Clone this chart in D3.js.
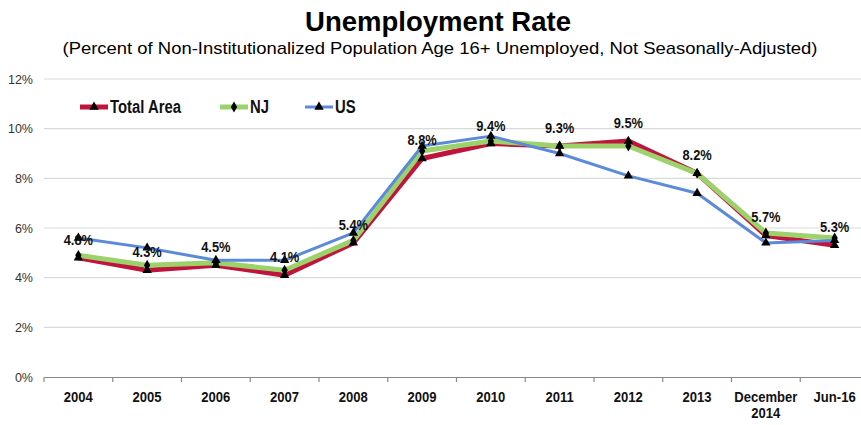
<!DOCTYPE html>
<html><head><meta charset="utf-8">
<script src="https://cdn.jsdelivr.net/npm/d3@7"></script>
<style>body{margin:0;background:#fff}svg{display:block;font-family:"Liberation Sans",Arial,sans-serif}</style>
</head><body><svg id="c" width="861" height="425"></svg>
<script>
const categories = ["2004","2005","2006","2007","2008","2009","2010","2011","2012","2013","December 2014","Jun-16"];
const totalArea = [4.8,4.3,4.5,4.1,5.4,8.8,9.4,9.3,9.5,8.2,5.7,5.3];
const nj = [4.9,4.5,4.6,4.3,5.5,9.1,9.5,9.3,9.3,8.2,5.8,5.6];
const us = [5.6,5.2,4.7,4.7,5.8,9.3,9.7,9.0,8.1,7.4,5.4,5.5];
const yTicks = [0,2,4,6,8,10,12];
const seriesNames = ["Total Area","NJ","US"];

(function(){
const svg = d3.select("#c");
const pLeft = 44, pRight = 869, pTop = 79, pBottom = 377;
const x = d3.scaleBand().domain(categories).range([pLeft, pRight]);
const y = d3.scaleLinear().domain([0,12]).range([pBottom, pTop]);

function condense(sel, f){
  sel.each(function(){
    const w = this.getComputedTextLength();
    d3.select(this).attr("textLength", w*f).attr("lengthAdjust","spacingAndGlyphs");
  });
}

svg.append("text").attr("x",438).attr("y",31).attr("text-anchor","middle")
  .attr("font-size",27.5).attr("font-weight","bold").text("Unemployment Rate");
svg.append("text").attr("x",440).attr("y",54).attr("text-anchor","middle")
  .attr("font-size",17).attr("textLength",755).attr("lengthAdjust","spacingAndGlyphs")
  .text("(Percent of Non-Institutionalized Population Age 16+ Unemployed, Not Seasonally-Adjusted)");

svg.append("g").selectAll("line").data(yTicks.filter(d=>d>0)).join("line")
  .attr("x1",pLeft).attr("x2",861).attr("y1",d=>y(d)).attr("y2",d=>y(d))
  .attr("stroke","#d9d9d9").attr("stroke-width",1.2);

svg.append("g").selectAll("text").data(yTicks).join("text")
  .attr("x",33).attr("y",d=>y(d)+4.5).attr("text-anchor","end")
  .attr("font-size",12.5).attr("fill","#333").text(d=>d+"%");

const xa = svg.append("g").attr("transform",`translate(0,${pBottom})`)
  .call(d3.axisBottom(x).tickSize(0).tickFormat(""));
xa.select(".domain").attr("stroke","#888").attr("stroke-width",1.2);
const tickPos = categories.map((c,i)=>pLeft + i*x.step());
svg.append("g").selectAll("line").data(tickPos).join("line")
  .attr("x1",d=>d).attr("x2",d=>d).attr("y1",pBottom).attr("y2",pBottom+5)
  .attr("stroke","#888").attr("stroke-width",1.2);
categories.forEach(c=>{
  const t = svg.append("text").attr("x",x(c)+x.bandwidth()/2).attr("y",pBottom+25)
    .attr("text-anchor","middle").attr("font-size",14.5).attr("font-weight","bold").attr("fill","#111");
  const parts = c === "December 2014" ? ["December","2014"] : [c];
  parts.forEach((p,i)=>t.append("tspan").attr("x",x(c)+x.bandwidth()/2).attr("dy",i?16:0).text(p));
  condense(t.selectAll("tspan"), 0.9);
});

const cx = c => x(c)+x.bandwidth()/2;
const line = d3.line().x((d,i)=>cx(categories[i])).y(d=>y(d));
const tri = d3.symbol().type(d3.symbolTriangle).size(38)();
const dia = d3.symbol().type(d3.symbolDiamond).size(34)();

const order = [
  {name:"Total Area", data:totalArea, color:"#c0143c", w:5, sym:tri},
  {name:"NJ", data:nj, color:"#9bd26a", w:5, sym:dia},
  {name:"US", data:us, color:"#5b8ad8", w:3, sym:tri}
];
order.forEach(s=>{
  svg.append("path").datum(s.data).attr("d",line).attr("fill","none")
    .attr("stroke",s.color).attr("stroke-width",s.w).attr("stroke-linejoin","round");
});
order.forEach(s=>{
  svg.append("g").selectAll("path").data(s.data).join("path")
    .attr("d",s.sym).attr("transform",(d,i)=>`translate(${cx(categories[i])},${y(d)})`)
    .attr("fill","#000");
});

const dl = svg.append("g").selectAll("text").data(totalArea).join("text")
  .attr("x",(d,i)=>cx(categories[i])).attr("y",(d,i)=>y(d)-13)
  .attr("text-anchor","middle").attr("font-size",15.5).attr("font-weight","bold").attr("fill","#111")
  .text(d=>d.toFixed(1)+"%");
condense(dl, 0.83);

const leg = [
  {name:seriesNames[0], color:"#c0143c", w:5, sym:tri, x:80},
  {name:seriesNames[1], color:"#9bd26a", w:5, sym:dia, x:220},
  {name:seriesNames[2], color:"#5b8ad8", w:3, sym:tri, x:305}
];
leg.forEach(l=>{
  const ly = 107;
  svg.append("line").attr("x1",l.x).attr("x2",l.x+28).attr("y1",ly).attr("y2",ly)
    .attr("stroke",l.color).attr("stroke-width",l.w);
  svg.append("path").attr("d",l.sym).attr("transform",`translate(${l.x+14},${ly})`).attr("fill","#000");
  const t = svg.append("text").attr("x",l.x+30).attr("y",ly+6).attr("font-size",17.5).attr("font-weight","bold")
    .attr("fill","#111").text(l.name);
  condense(t, 0.85);
});
})();
</script></body></html>
